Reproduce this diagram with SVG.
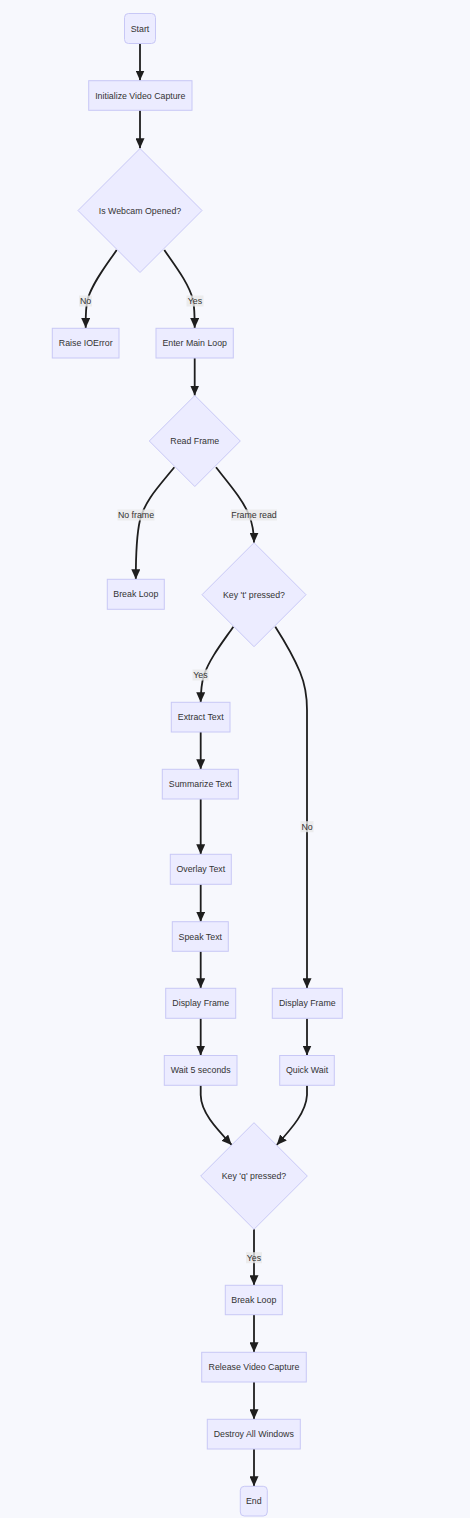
<svg xmlns="http://www.w3.org/2000/svg" width="470" height="1518" viewBox="0 0 470 1518">
<style>
.node rect, .node polygon { fill: #ECECFF; stroke: #c8c8f6; stroke-width: 1; }
.node text, .elabel text { font-family: "Liberation Sans", Arial, sans-serif; font-size: 8.8px; fill: #333; text-anchor: middle; dominant-baseline: central; }
.edge { fill: none; stroke: #1e1e1e; stroke-width: 1.8; }
.elabel rect { fill: #e8e8e8; opacity: 0.8; }
</style>
<defs>
<marker id="arrow" viewBox="0 0 10 10" refX="10" refY="5" markerWidth="10" markerHeight="9" markerUnits="userSpaceOnUse" orient="auto" preserveAspectRatio="none">
<path d="M0,0 L10,5 L0,10 z" fill="#1e1e1e"/>
</marker>
</defs>
<rect x="0" y="0" width="470" height="1518" fill="#f7f8fd"/>
<g id="connectors">
<path class="edge" marker-end="url(#arrow)" d="M140,43.3 L140,80.5"/>
<path class="edge" marker-end="url(#arrow)" d="M140,110.3 L140,148.3"/>
<path class="edge" marker-end="url(#arrow)" d="M116.7,250 C108,263 92,283 87.5,300 C85.5,308 85.7,316 85.7,328"/>
<path class="edge" marker-end="url(#arrow)" d="M164.3,250 C173,263 189,283 193,300 C194.7,308 194.7,316 194.7,328"/>
<path class="edge" marker-end="url(#arrow)" d="M194.7,358 L194.7,395.5"/>
<path class="edge" marker-end="url(#arrow)" d="M174.3,467.3 C160,485 145,500 140,520 C136.5,535 135.8,550 135.8,579.3"/>
<path class="edge" marker-end="url(#arrow)" d="M216,467.3 C230,485 243,500 249,515 C253,525 254,533 254,542.7"/>
<path class="edge" marker-end="url(#arrow)" d="M233.3,626.7 C222,643 210,658 204,675 C201,685 200.7,693 200.7,702.3"/>
<path class="edge" marker-end="url(#arrow)" d="M275.3,626.7 C287,645 295,660 300,672 C305,684 307,695 307,710 L307,988.3"/>
<path class="edge" marker-end="url(#arrow)" d="M200.7,732 L200.7,769.3"/>
<path class="edge" marker-end="url(#arrow)" d="M200.7,799 L200.7,854.3"/>
<path class="edge" marker-end="url(#arrow)" d="M200.7,884.3 L200.7,921.7"/>
<path class="edge" marker-end="url(#arrow)" d="M200.7,951.3 L200.7,988.3"/>
<path class="edge" marker-end="url(#arrow)" d="M200.7,1018.3 L200.7,1055.5"/>
<path class="edge" marker-end="url(#arrow)" d="M307,1018.3 L307,1055.5"/>
<path class="edge" marker-end="url(#arrow)" d="M200.7,1085.3 L200.7,1095 C201,1112 215,1127 231.7,1145"/>
<path class="edge" marker-end="url(#arrow)" d="M307,1085.3 L307,1095 C306,1112 293,1127 276.7,1145"/>
<path class="edge" marker-end="url(#arrow)" d="M254,1229.3 L254,1285.3"/>
<path class="edge" marker-end="url(#arrow)" d="M254,1314.7 L254,1352.3"/>
<path class="edge" marker-end="url(#arrow)" d="M254,1382 L254,1419.3"/>
<path class="edge" marker-end="url(#arrow)" d="M254,1449 L254,1486.3"/>
</g>
<g id="edge-labels">
<g class="elabel"><rect x="79" y="295.5" width="13" height="11"/><text x="85.5" y="301">No</text></g>
<g class="elabel"><rect x="186.5" y="295.5" width="17" height="11"/><text x="195" y="301">Yes</text></g>
<g class="elabel"><rect x="117.5" y="509.5" width="37" height="11"/><text x="136" y="515">No frame</text></g>
<g class="elabel"><rect x="231" y="509.5" width="46" height="11"/><text x="254" y="515">Frame read</text></g>
<g class="elabel"><rect x="192.5" y="669.5" width="16" height="11"/><text x="200.5" y="675">Yes</text></g>
<g class="elabel"><rect x="300.5" y="821.2" width="13" height="11"/><text x="307" y="826.7">No</text></g>
<g class="elabel"><rect x="246" y="1252.2" width="16" height="11"/><text x="254" y="1257.7">Yes</text></g>
</g>
<g id="start" class="node"><rect x="124.5" y="13.5" width="31" height="30" rx="4"/><text x="140" y="28.5">Start</text></g>
<g id="init" class="node"><rect x="88.7" y="80.7" width="103.3" height="29.6"/><text x="140.3" y="95.5">Initialize Video Capture</text></g>
<g id="webcam" class="node"><polygon points="140,148.5 202,210.5 140,272.5 78,210.5"/><text x="140" y="210.5">Is Webcam Opened?</text></g>
<g id="raise" class="node"><rect x="52.3" y="328.3" width="66.7" height="29.7"/><text x="85.7" y="343.2">Raise IOError</text></g>
<g id="mainloop" class="node"><rect x="156" y="328.3" width="77.3" height="29.7"/><text x="194.7" y="343.2">Enter Main Loop</text></g>
<g id="readframe" class="node"><polygon points="194.8,395.5 240.3,441 194.8,486.5 149.3,441"/><text x="194.8" y="441">Read Frame</text></g>
<g id="break1" class="node"><rect x="107.3" y="579.3" width="57" height="30"/><text x="135.8" y="594.3">Break Loop</text></g>
<g id="keyt" class="node"><polygon points="254,542.7 306,594.7 254,646.7 202,594.7"/><text x="254" y="594.7">Key 't' pressed?</text></g>
<g id="extract" class="node"><rect x="171.3" y="702.3" width="58.7" height="29.7"/><text x="200.7" y="717.2">Extract Text</text></g>
<g id="summarize" class="node"><rect x="162.3" y="769.3" width="76" height="29.7"/><text x="200.3" y="784.2">Summarize Text</text></g>
<g id="overlay" class="node"><rect x="170.3" y="854.3" width="61" height="30"/><text x="200.8" y="869.3">Overlay Text</text></g>
<g id="speak" class="node"><rect x="172.3" y="921.7" width="56" height="29.6"/><text x="200.3" y="936.5">Speak Text</text></g>
<g id="display1" class="node"><rect x="165.7" y="988.3" width="70" height="30"/><text x="200.7" y="1003.3">Display Frame</text></g>
<g id="display2" class="node"><rect x="272.3" y="988.3" width="70" height="30"/><text x="307.3" y="1003.3">Display Frame</text></g>
<g id="wait5" class="node"><rect x="164.3" y="1055.5" width="72.7" height="29.8"/><text x="200.7" y="1070.4">Wait 5 seconds</text></g>
<g id="quickwait" class="node"><rect x="279.7" y="1055.5" width="54.6" height="29.8"/><text x="307" y="1070.4">Quick Wait</text></g>
<g id="keyq" class="node"><polygon points="254,1122.7 307.3,1176 254,1229.3 200.7,1176"/><text x="254" y="1176">Key 'q' pressed?</text></g>
<g id="break2" class="node"><rect x="225.3" y="1285.3" width="57" height="29.4"/><text x="253.8" y="1300">Break Loop</text></g>
<g id="release" class="node"><rect x="201.7" y="1352.3" width="104.6" height="29.7"/><text x="254" y="1367.2">Release Video Capture</text></g>
<g id="destroy" class="node"><rect x="207.3" y="1419.3" width="93" height="29.7"/><text x="253.8" y="1434.2">Destroy All Windows</text></g>
<g id="end" class="node"><rect x="240.3" y="1486.3" width="27" height="29.7" rx="4"/><text x="253.8" y="1501.2">End</text></g>
</svg>
